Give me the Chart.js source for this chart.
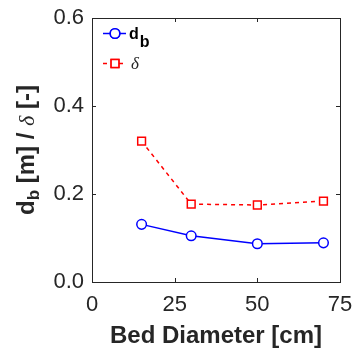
<!DOCTYPE html>
<html lang="en">
<head>
    <meta charset="UTF-8">
    <title>Bubble diameter vs bed diameter</title>
    <script src="https://cdn.jsdelivr.net/npm/chart.js"></script>
    <style>
        html, body { margin: 0; padding: 0; background: #fff; }
        .chart-container { width: 358px; height: 356px; }
    </style>
</head>
<body>
    <div class="chart-container">
        <canvas id="bedChart" width="358" height="356"></canvas>
    </div>

    <script>
        // bed diameter [cm]
        const bedDiameters = [15, 30, 50, 70];
        // bubble diameter d_b [m]
        const bubbleDiameter = [0.131, 0.105, 0.087, 0.089];
        // delta [-]
        const deltaValues = [0.320, 0.177, 0.175, 0.184];
        const xTicks = [0, 25, 50, 75];
        const yTicks = [0.0, 0.2, 0.4, 0.6];

        const INK = '#262626';
        const BLUE = '#0000ff';
        const RED = '#ff0000';

        // box around the axes plus inward tick marks on all four sides
        const framePlugin = {
            id: 'frame',
            afterDraw(chart) {
                const { ctx, chartArea: a, scales } = chart;
                ctx.save();
                ctx.strokeStyle = INK;
                ctx.lineWidth = 1;
                ctx.strokeRect(a.left + 0.5, a.top + 0.5, a.right - a.left, a.bottom - a.top);
                const t = 4;
                ctx.beginPath();
                xTicks.forEach(v => {
                    const x = Math.round(scales.x.getPixelForValue(v)) + 0.5;
                    ctx.moveTo(x, a.bottom); ctx.lineTo(x, a.bottom - t);
                    ctx.moveTo(x, a.top); ctx.lineTo(x, a.top + t);
                });
                yTicks.forEach(v => {
                    const y = Math.round(scales.y.getPixelForValue(v)) + 0.5;
                    ctx.moveTo(a.left, y); ctx.lineTo(a.left + t, y);
                    ctx.moveTo(a.right, y); ctx.lineTo(a.right - t, y);
                });
                ctx.stroke();

                // y-axis title with subscript b and italic delta
                ctx.translate(25, (a.top + a.bottom) / 2);
                ctx.rotate(-Math.PI / 2);
                ctx.fillStyle = INK;
                ctx.textBaseline = 'alphabetic';
                const parts = [
                    { s: 'd', f: 'bold 24px "Liberation Sans", Arial', dy: 0 },
                    { s: 'b', f: 'bold 17px "Liberation Sans", Arial', dy: 5 },
                    { s: ' [m] / ', f: 'bold 24px "Liberation Sans", Arial', dy: 0 },
                    { s: 'δ', f: 'italic 22px "Liberation Serif", serif', dy: 0 },
                    { s: ' [-]', f: 'bold 24px "Liberation Sans", Arial', dy: 0 }
                ];
                let total = 0;
                parts.forEach(p => { ctx.font = p.f; p.w = ctx.measureText(p.s).width; total += p.w; });
                let x = -total / 2;
                parts.forEach(p => {
                    ctx.font = p.f;
                    ctx.fillText(p.s, x, 9 + p.dy);
                    x += p.w;
                });
                ctx.restore();

                // legend in the upper left corner
                ctx.save();
                const lx0 = a.left + 11, lx1 = a.left + 34, mx = a.left + 23;
                const rows = [
                    { y: a.top + 15.5, color: BLUE, dash: [], style: 'circle', r: 4.8 },
                    { y: a.top + 45.5, color: RED, dash: [4, 4], style: 'rect', r: 5.5 }
                ];
                rows.forEach(row => {
                    ctx.strokeStyle = row.color;
                    ctx.lineWidth = 1.5;
                    ctx.setLineDash(row.dash);
                    ctx.beginPath();
                    ctx.moveTo(lx0, row.y); ctx.lineTo(lx1, row.y);
                    ctx.stroke();
                    ctx.setLineDash([]);
                    ctx.fillStyle = '#fff';
                    Chart.helpers.drawPoint(ctx, { pointStyle: row.style, radius: row.r, borderWidth: 1.5 }, mx, row.y);
                    ctx.fill();
                    ctx.stroke();
                });
                ctx.fillStyle = '#000';
                ctx.textBaseline = 'alphabetic';
                ctx.font = 'bold 16px "Liberation Sans", Arial';
                ctx.fillText('d', lx1 + 3, rows[0].y + 5.5);
                const dw = ctx.measureText('d').width;
                ctx.fillText('b', lx1 + 3 + dw + 1, rows[0].y + 13.5);
                ctx.fillStyle = INK;
                ctx.font = 'italic 17px "Liberation Serif", serif';
                ctx.fillText('δ', lx1 + 5, rows[1].y + 5);
                ctx.restore();
            }
        };

        const ctx = document.getElementById('bedChart').getContext('2d');
        new Chart(ctx, {
            type: 'line',
            data: {
                labels: bedDiameters,
                datasets: [
                    {
                        label: 'd_b',
                        data: bedDiameters.map((x, i) => ({ x, y: bubbleDiameter[i] })),
                        borderColor: BLUE,
                        backgroundColor: '#fff',
                        borderWidth: 1.5,
                        pointStyle: 'circle',
                        pointRadius: 4.8,
                        pointBorderWidth: 1.5,
                        tension: 0
                    },
                    {
                        label: 'delta',
                        data: bedDiameters.map((x, i) => ({ x, y: deltaValues[i] })),
                        borderColor: RED,
                        backgroundColor: '#fff',
                        borderWidth: 1.5,
                        borderDash: [4, 4],
                        pointStyle: 'rect',
                        pointRadius: 5.5,
                        pointBorderWidth: 1.5,
                        tension: 0
                    }
                ]
            },
            options: {
                responsive: false,
                animation: false,
                layout: { padding: { left: 0, right: 18, top: 18, bottom: 0 } },
                plugins: { legend: { display: false }, tooltip: { enabled: false } },
                scales: {
                    x: {
                        type: 'linear',
                        min: 0,
                        max: 75,
                        afterBuildTicks: s => { s.ticks = xTicks.map(v => ({ value: v })); },
                        grid: { display: false, drawTicks: false },
                        border: { display: false },
                        ticks: {
                            color: INK,
                            padding: 10,
                            maxRotation: 0,
                            font: { family: '"Liberation Sans", Arial', size: 22 }
                        },
                        title: {
                            display: true,
                            text: 'Bed Diameter [cm]',
                            color: INK,
                            padding: { top: 2, bottom: 5 },
                            font: { family: '"Liberation Sans", Arial', size: 24, weight: 'bold' }
                        },
                        afterFit: s => { s.height = 74; s.paddingLeft = 0; s.paddingRight = 0; }
                    },
                    y: {
                        type: 'linear',
                        min: 0,
                        max: 0.6,
                        afterBuildTicks: s => { s.ticks = yTicks.map(v => ({ value: v })); },
                        grid: { display: false, drawTicks: false },
                        border: { display: false },
                        ticks: {
                            color: INK,
                            padding: 8,
                            callback: v => v.toFixed(1),
                            font: { family: '"Liberation Sans", Arial', size: 22 }
                        },
                        afterFit: s => { s.width = 92; s.paddingTop = 0; s.paddingBottom = 0; }
                    }
                }
            },
            plugins: [framePlugin]
        });
    </script>
</body>
</html>
